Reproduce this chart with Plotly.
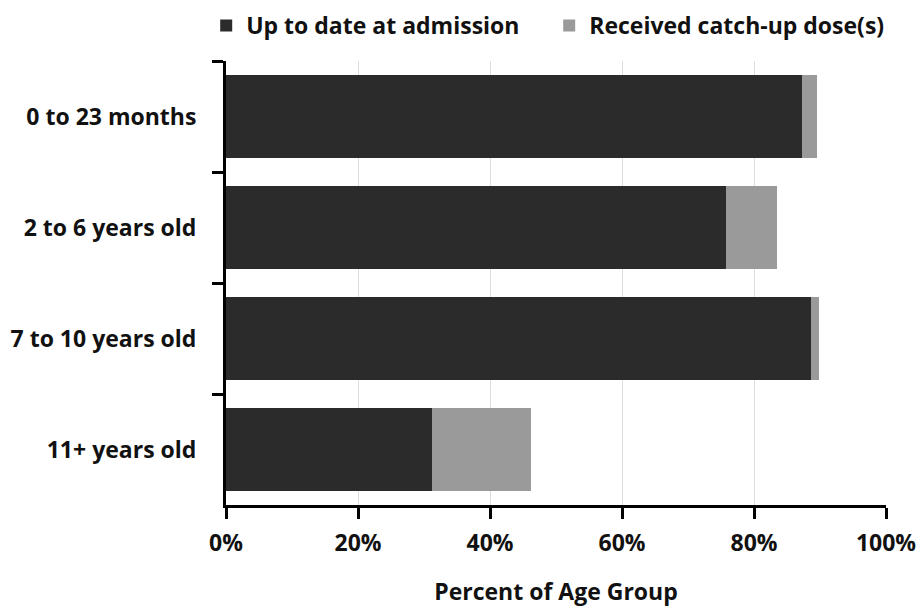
import plotly.graph_objects as go

categories = ["0 to 23 months", "2 to 6 years old", "7 to 10 years old", "11+ years old"]
up_to_date = [87.3, 75.7, 88.6, 31.2]
catch_up = [2.3, 7.8, 1.3, 15.0]
x_ticks = [0, 20, 40, 60, 80, 100]
x_tick_labels = ["0%", "20%", "40%", "60%", "80%", "100%"]

FONT = "Open Sans"
FS = 23

fig = go.Figure()
fig.add_trace(go.Bar(
    y=categories, x=up_to_date, orientation="h",
    name="Up to date at admission", marker=dict(color="#2b2b2b", line=dict(width=0)),
))
fig.add_trace(go.Bar(
    y=categories, x=catch_up, orientation="h",
    name="Received catch-up dose(s)", marker=dict(color="#9a9a9a", line=dict(width=0)),
))

fig.update_layout(
    barmode="stack",
    bargap=0.26,
    width=919, height=607,
    margin=dict(l=226, r=33, t=61, b=102, autoexpand=False),
    paper_bgcolor="white", plot_bgcolor="white",
    font=dict(family=FONT, size=FS, color="#111111"),
    legend=dict(
        orientation="h", x=-0.03, xanchor="left", y=1.08, yanchor="middle",
        font=dict(family=FONT, size=FS, color="#111111", weight="bold"),
        traceorder="normal", itemwidth=30, entrywidth=298, entrywidthmode="pixels",
        bgcolor="rgba(0,0,0,0)",
    ),
    showlegend=True,
)
fig.update_xaxes(
    range=[0, 100], tickvals=x_ticks, ticktext=x_tick_labels,
    showgrid=True, gridcolor="#dddddd", gridwidth=1,
    showline=True, linecolor="black", linewidth=3,
    ticks="outside", ticklen=11, tickwidth=3, tickcolor="black",
    tickfont=dict(family=FONT, size=FS, color="#111111", weight="bold"),
    ticklabelstandoff=4, automargin=False,
    title=dict(text="Percent of Age Group", standoff=42,
               font=dict(family=FONT, size=FS, color="#111111", weight="bold")),
    zeroline=False,
)
fig.update_yaxes(
    categoryorder="array", categoryarray=categories, autorange="reversed",
    tickson="boundaries",
    showline=True, linecolor="black", linewidth=3,
    ticks="outside", ticklen=11, tickwidth=3, tickcolor="black",
    tickfont=dict(family=FONT, size=FS, color="#111111", weight="bold"),
    ticklabelstandoff=22, automargin=False,
    showgrid=False,
)

fig.write_html("out.html", config={"displayModeBar": False},
               post_script="document.body.style.margin='0';")
